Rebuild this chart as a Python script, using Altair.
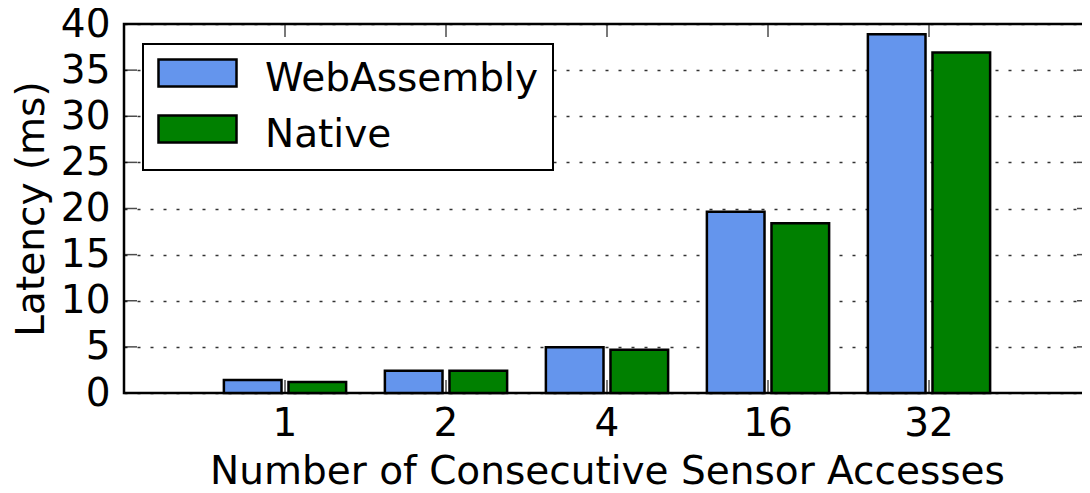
import altair as alt
import pandas as pd

# ---- data ----
categories = ["1", "2", "4", "16", "32"]
series = ["WebAssembly", "Native"]
wasm = [1.4, 2.4, 4.95, 19.65, 38.9]
native = [1.2, 2.4, 4.7, 18.4, 36.9]
colors = ["#6495ED", "#008000"]
y_ticks = [0, 5, 10, 15, 20, 25, 30, 35, 40]

rows = []
for i, c in enumerate(categories):
    rows.append({"n": c, "series": series[0], "v": wasm[i]})
    rows.append({"n": c, "series": series[1], "v": native[i]})
bars_df = pd.DataFrame(rows)
cat_df = pd.DataFrame({"n": categories})
ytick_df = pd.DataFrame({"t": y_ticks})

W, H = 966, 369
FONT = "DejaVu Sans"
FS = 39
TICK = 13

x_scale = alt.Scale(domain=categories, paddingInner=0, paddingOuter=0.5)
y_scale = alt.Scale(domain=[0, 40], nice=False)

x_axis = alt.Axis(
    title="Number of Consecutive Sensor Accesses", labelAngle=0,
    ticks=False, tickSize=0, domain=False, grid=False,
    labelBaseline="alphabetic", labelPadding=42,
    titleX=W / 2, titleY=90, titleBaseline="alphabetic",
)
y_axis = alt.Axis(
    title="Latency (ms)", values=y_ticks, ticks=False, tickSize=0,
    domain=False, grid=True, gridColor="black", gridDash=[3, 10],
    gridWidth=1.5, gridOpacity=0.8, labelPadding=14,
    titleX=-81, titleY=H / 2, titleBaseline="alphabetic",
)

bars = alt.Chart(bars_df).mark_bar(stroke="black", strokeWidth=2.5, opacity=1).encode(
    x=alt.X("n:N", sort=categories, scale=x_scale, axis=x_axis),
    xOffset=alt.XOffset(
        "series:N", sort=series,
        scale=alt.Scale(domain=series, paddingInner=0.108, paddingOuter=0.3),
    ),
    y=alt.Y("v:Q", scale=y_scale, axis=y_axis),
    color=alt.Color(
        "series:N", sort=series,
        scale=alt.Scale(domain=series, range=colors),
        legend=alt.Legend(
            title=None, orient="none", legendX=19, legendY=20,
            symbolType="M-2.889,-1.407H2.889V0.593H-2.889Z",
            symbolSize=729, symbolStrokeColor="black", symbolStrokeWidth=2.5,
            symbolOpacity=1, symbolOffset=20, labelOffset=48, labelLimit=500,
            labelFont=FONT, labelFontSize=FS, labelColor="black",
            padding=15, rowPadding=11, strokeColor="black", fillColor="white",
        ),
    ),
)

left_ticks = alt.Chart(ytick_df).mark_tick(
    orient="horizontal", color="black", thickness=1.5, size=TICK
).encode(y=alt.Y("t:Q", scale=y_scale, axis=y_axis), x=alt.value(TICK / 2))

right_ticks = alt.Chart(ytick_df).mark_tick(
    orient="horizontal", color="black", thickness=1.5, size=TICK
).encode(y=alt.Y("t:Q", scale=y_scale, axis=y_axis), x=alt.value(W - TICK / 2))

bottom_ticks = alt.Chart(cat_df).mark_tick(
    orient="vertical", color="black", thickness=1.5, size=TICK
).encode(x=alt.X("n:N", sort=categories, scale=x_scale, axis=x_axis), y=alt.value(H - TICK / 2))

top_ticks = alt.Chart(cat_df).mark_tick(
    orient="vertical", color="black", thickness=1.5, size=TICK
).encode(x=alt.X("n:N", sort=categories, scale=x_scale, axis=x_axis), y=alt.value(TICK / 2))

chart = alt.layer(bars, left_ticks, right_ticks, bottom_ticks, top_ticks).properties(
    width=W, height=H,
    autosize=alt.AutoSizeParams(type="none"),
    padding={"left": 116, "top": 16, "right": -8, "bottom": 92},
    background="white",
).configure_view(
    stroke="black", strokeWidth=2.5
).configure_axis(
    labelFont=FONT, labelFontSize=FS, labelColor="black",
    titleFont=FONT, titleFontSize=FS, titleColor="black", titleFontWeight="normal",
).configure_legend(
    strokeWidth=2
)

chart.save("out.html", embed_options={"renderer": "svg", "actions": False})
